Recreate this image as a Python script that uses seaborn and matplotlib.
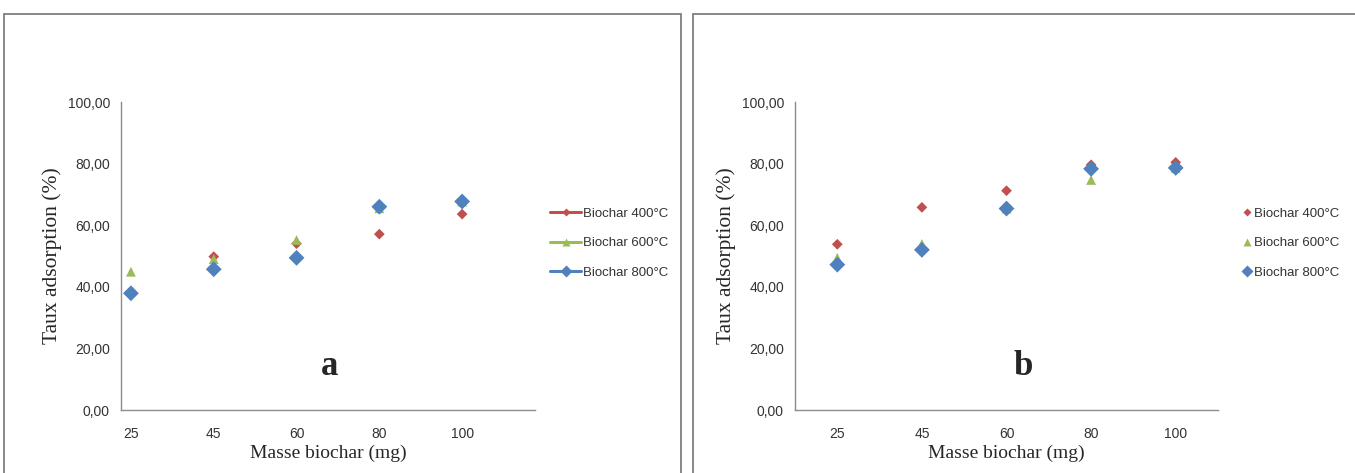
from __future__ import annotations

import matplotlib
matplotlib.use("Agg")
import matplotlib.pyplot as plt
import pandas as pd
import seaborn as sns
from matplotlib.lines import Line2D
from matplotlib.patches import Rectangle
from matplotlib.ticker import FuncFormatter


MASSES = ["25", "45", "60", "80", "100"]
SERIES = ["Biochar 400°C", "Biochar 600°C", "Biochar 800°C"]

# panel a
A_400 = [38.0, 49.8, 54.0, 57.1, 63.6]
A_600 = [44.9, 49.0, 55.2, 65.5, 67.7]
A_800 = [37.9, 45.7, 49.4, 66.0, 67.7]

# panel b
B_400 = [53.8, 65.8, 71.2, 79.6, 80.4]
B_600 = [49.4, 53.9, 65.4, 74.7, 78.6]
B_800 = [47.2, 52.0, 65.4, 78.3, 78.6]

COLORS = {"Biochar 400°C": "#C0504D", "Biochar 600°C": "#9BBB59", "Biochar 800°C": "#4F81BD"}
MARKERS = {"Biochar 400°C": "D", "Biochar 600°C": "^", "Biochar 800°C": "D"}
SIZES = {"Biochar 400°C": 30, "Biochar 600°C": 50, "Biochar 800°C": 65}
LEG_MS = {"Biochar 400°C": 4.5, "Biochar 600°C": 6, "Biochar 800°C": 6.5}

AXIS_GREY = "#8C8C8C"
TEXT = "#333333"


def build_frame(s400, s600, s800) -> pd.DataFrame:
    rows = []
    for name, vals in zip(SERIES, [s400, s600, s800]):
        for i, (m, v) in enumerate(zip(MASSES, vals)):
            rows.append({"pos": i, "masse": m, "taux": v, "serie": name})
    return pd.DataFrame(rows)


def draw_panel(ax, df, letter, letter_x, xlim, minor_ticks, legend_lines, legend_x):
    for name in SERIES:
        sub = df[df["serie"] == name]
        sns.scatterplot(data=sub, x="pos", y="taux", marker=MARKERS[name], color=COLORS[name],
                        s=SIZES[name], edgecolor="none", ax=ax, legend=False, zorder=3)

    ax.set_xlim(*xlim)
    ax.set_ylim(0, 100)
    ax.set_xticks(range(len(MASSES)))
    ax.set_xticklabels(MASSES)
    ax.set_xticks(minor_ticks, minor=True)
    ax.set_yticks([0, 20, 40, 60, 80, 100])
    ax.yaxis.set_major_formatter(FuncFormatter(lambda v, _: f"{v:.2f}".replace(".", ",")))

    ax.tick_params(axis="x", which="major", length=0, pad=12, labelsize=10, labelcolor=TEXT)
    ax.tick_params(axis="x", which="minor", length=4, width=1, color=AXIS_GREY)
    ax.tick_params(axis="y", length=4, width=1, color=AXIS_GREY, labelsize=10, labelcolor=TEXT, pad=4)
    for side in ["top", "right"]:
        ax.spines[side].set_visible(False)
    for side in ["left", "bottom"]:
        ax.spines[side].set_color(AXIS_GREY)
        ax.spines[side].set_linewidth(1)
    ax.grid(False)

    ax.set_xlabel("Masse biochar (mg)", family="Liberation Serif", fontsize=14, labelpad=3)
    ax.set_ylabel("Taux adsorption (%)", family="Liberation Serif", fontsize=15.5, labelpad=4)
    ax.text(letter_x, 0.14, letter, transform=ax.transAxes, family="Liberation Serif",
            fontsize=25, fontweight="bold", ha="center", va="center")

    handles = []
    for name in SERIES:
        h = Line2D([], [], color=COLORS[name], lw=2.2 if legend_lines else 0,
                   marker=MARKERS[name], markersize=LEG_MS[name], markeredgecolor="none")
        handles.append(h)
    ax.legend(handles, SERIES, loc="center left", bbox_to_anchor=(legend_x, 0.542), frameon=False,
              fontsize=9.5, labelspacing=1.3, handlelength=2.4 if legend_lines else 0.8,
              handletextpad=0.15, borderaxespad=0, labelcolor=TEXT)


def main() -> None:
    sns.set_theme(style="white")
    plt.rcParams["font.family"] = ["Liberation Sans", "DejaVu Sans"]

    fig = plt.figure(figsize=(13.55, 4.73), dpi=100)
    fig.patch.set_facecolor("white")

    # panel frames
    for x0, x1 in [(4, 681), (693, 1360)]:
        fig.add_artist(Rectangle((x0 / 1355, -0.05), (x1 - x0) / 1355, 1.05 - 14 / 473,
                                 transform=fig.transFigure, fill=False, edgecolor="#7F7F7F", lw=1.3))

    bottom = 1 - 410 / 473
    height = (410 - 102) / 473
    ax_a = fig.add_axes([121 / 1355, bottom, (535 - 121) / 1355, height])
    ax_b = fig.add_axes([795 / 1355, bottom, (1218 - 795) / 1355, height])

    draw_panel(ax_a, build_frame(A_400, A_600, A_800), "a", 0.503, (-0.12, 4.88),
               [k - 0.12 for k in range(6)], True, 1.023)
    draw_panel(ax_b, build_frame(B_400, B_600, B_800), "b", 0.539, (-0.5, 4.5),
               [3.5], False, 1.044)

    fig.savefig("out.png", dpi=100)
    plt.close(fig)


if __name__ == "__main__":
    main()
